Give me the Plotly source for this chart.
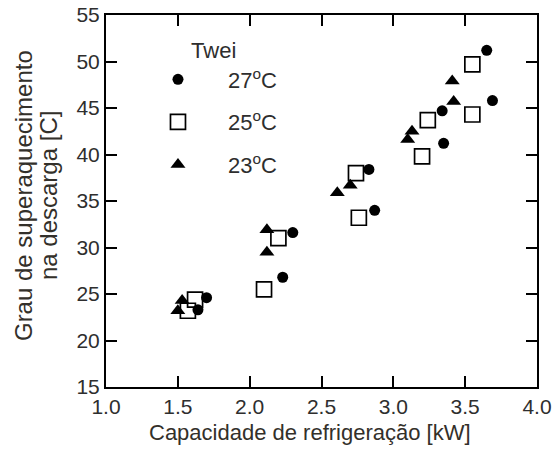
import plotly.graph_objects as go

# Capacidade de refrigeração [kW] vs grau de superaquecimento na descarga [C]
cap_27 = [3.65, 3.69, 3.34, 3.35, 2.83, 2.87, 2.30, 2.23, 1.70, 1.64]
sup_27 = [51.2, 45.8, 44.7, 41.2, 38.4, 34.0, 31.6, 26.8, 24.6, 23.3]

cap_25 = [3.55, 3.55, 3.24, 3.20, 2.74, 2.76, 2.20, 2.10, 1.62, 1.57]
sup_25 = [49.7, 44.3, 43.7, 39.8, 38.0, 33.2, 31.0, 25.5, 24.4, 23.2]

cap_23 = [3.41, 3.42, 3.13, 3.10, 2.70, 2.61, 2.12, 2.12, 1.53, 1.50]
sup_23 = [47.9, 45.7, 42.5, 41.6, 36.7, 35.9, 31.9, 29.5, 24.3, 23.2]

x_ticks = [1.0, 1.5, 2.0, 2.5, 3.0, 3.5, 4.0]
y_ticks = [15, 20, 25, 30, 35, 40, 45, 50, 55]

FONT = "Liberation Sans, Arial, sans-serif"
INK = "#2e2e2e"
TITLE_INK = "#33302a"

fig = go.Figure()

series = [
    ("27<sup>o</sup>C", cap_27, sup_27, dict(symbol="circle", size=11, color="black")),
    ("25<sup>o</sup>C", cap_25, sup_25,
     dict(symbol="square-open", size=15, color="black", line=dict(width=1.7, color="black"))),
    ("23<sup>o</sup>C", cap_23, sup_23, dict(symbol="triangle-up", size=13, color="black")),
]
for i, (name, xs, ys, mk) in enumerate(series):
    fig.add_trace(go.Scatter(
        x=xs, y=ys, mode="markers", name=name, marker=mk,
        legendgroup=f"g{i}",
    ))

axis_common = dict(
    showgrid=False, zeroline=False, showline=True, linecolor="black", linewidth=2,
    mirror="ticks", ticks="inside", ticklen=11, tickwidth=2, tickcolor="black",
    tickfont=dict(family=FONT, size=21, color=INK), automargin=False,
)

fig.update_xaxes(range=[1.0, 4.0], tickvals=x_ticks,
                 ticktext=[f"{v:.1f}" for v in x_ticks], **axis_common)
fig.update_yaxes(range=[15, 55], tickvals=y_ticks,
                 ticktext=[str(v) for v in y_ticks], **axis_common)

fig.update_layout(
    width=555, height=454,
    margin=dict(l=106, r=18, t=15, b=67),
    plot_bgcolor="white", paper_bgcolor="white",
    font=dict(family=FONT, color=INK),
    showlegend=True,
    legend=dict(
        x=0.051, y=0.96, xanchor="left", yanchor="top",
        bgcolor="rgba(0,0,0,0)", borderwidth=0,
        title=dict(text="&nbsp;" * 10 + "Twei", font=dict(family=FONT, size=22, color=INK)),
        font=dict(family=FONT, size=22, color=INK),
        tracegroupgap=11, itemwidth=90,
    ),
    annotations=[
        dict(text="Capacidade de refrigeração [kW]", x=0.473, y=-0.121,
             xref="paper", yref="paper", xanchor="center", yanchor="middle",
             showarrow=False, font=dict(family=FONT, size=22, color=TITLE_INK)),
        dict(text="Grau de superaquecimento", x=-0.1926, y=0.516,
             xref="paper", yref="paper", xanchor="center", yanchor="middle",
             textangle=-90, showarrow=False,
             font=dict(family=FONT, size=24, color=TITLE_INK)),
        dict(text="na descarga [C]", x=-0.1346, y=0.516,
             xref="paper", yref="paper", xanchor="center", yanchor="middle",
             textangle=-90, showarrow=False,
             font=dict(family=FONT, size=24, color=TITLE_INK)),
    ],
)

fig.write_html("out.html")
